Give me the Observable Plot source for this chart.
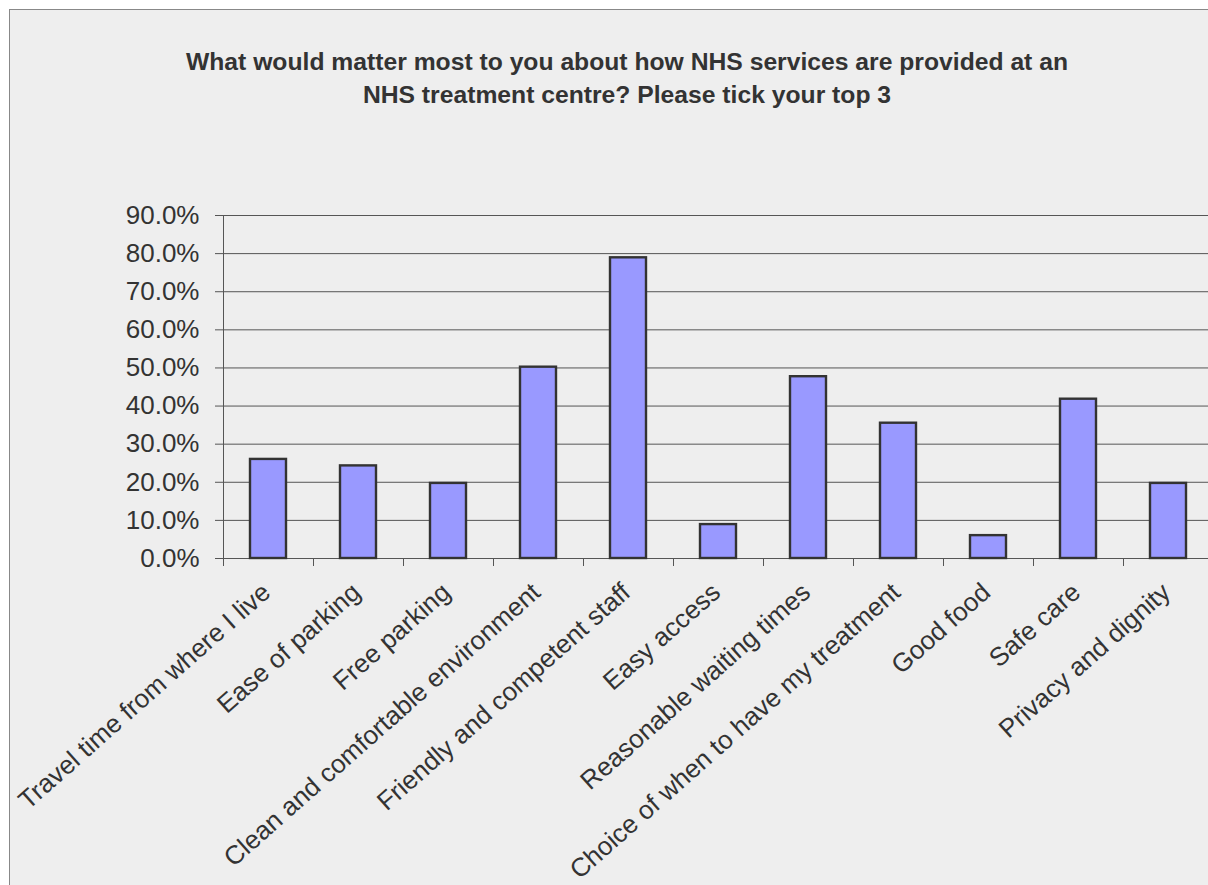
<!DOCTYPE html>
<html>
<head>
<meta charset="utf-8">
<script src="https://cdn.jsdelivr.net/npm/d3@7"></script>
<script src="https://cdn.jsdelivr.net/npm/@observablehq/plot@0.6"></script>
<style>
  html, body { margin: 0; padding: 0; width: 1208px; height: 885px; overflow: hidden; background: #fff; }
  #frame { position: absolute; left: 9px; top: 9px; width: 1300px; height: 1000px; background: #eeeeee; border: 1px solid #888; box-sizing: border-box; }
  #title { position: absolute; left: 0; top: 45px; width: 1254px; text-align: center; font-family: "Liberation Sans", Arial, sans-serif; font-weight: bold; font-size: 24.7px; line-height: 33px; color: #333; }
  #chart { position: absolute; left: 0; top: 0; width: 1215px; }
  #chart svg { max-width: none !important; }
</style>
</head>
<body>
<div id="frame"></div>
<div id="title">What would matter most to you about how NHS services are provided at an<br>NHS treatment centre? Please tick your top 3</div>
<div id="chart"></div>
<script>
const categories = [
  "Travel time from where I live",
  "Ease of parking",
  "Free parking",
  "Clean and comfortable environment",
  "Friendly and competent staff",
  "Easy access",
  "Reasonable waiting times",
  "Choice of when to have my treatment",
  "Good food",
  "Safe care",
  "Privacy and dignity"
];
const shares = [0.260, 0.243, 0.197, 0.502, 0.789, 0.089, 0.477, 0.355, 0.060, 0.418, 0.197];
const yTicks = [0, 0.1, 0.2, 0.3, 0.4, 0.5, 0.6, 0.7, 0.8, 0.9];

const data = categories.map((c, i) => ({category: c, share: shares[i]}));

const W = 1215, H = 885, ML = 223, MR = 2;
const step = (W - ML - MR) / categories.length;

const plot = Plot.plot({
  width: W,
  height: H,
  marginLeft: ML,
  marginRight: MR,
  marginTop: 215,
  marginBottom: 327,
  style: {background: "transparent", fontFamily: "'Liberation Sans', Arial, sans-serif", color: "#333", maxWidth: "none"},
  x: {domain: categories, paddingInner: 0.6, paddingOuter: 0.3, align: 0.5},
  y: {domain: [0, 0.9]},
  marks: [
    Plot.ruleY(yTicks, {y: d => d, stroke: "#555", strokeWidth: 1, insetLeft: -8}),
    Plot.barY(data, {x: "category", y: "share", fill: "#9999ff", stroke: "#333", strokeWidth: 2.4}),
    Plot.ruleX(categories, {x: d => d, dx: -step / 2, y1: 0, y2: 0, insetBottom: -8, stroke: "#555"}),
    Plot.ruleX(categories.slice(0, 1), {x: d => d, dx: -step / 2, y1: 0.9, y2: 0, insetBottom: -8, stroke: "#555"}),
    Plot.axisY(yTicks, {tickSize: 0, tickPadding: 24, tickFormat: d3.format(".1%"), fontSize: 26, fill: "#333", label: null}),
    Plot.axisX({tickSize: 0, tickPadding: 30, dx: -2, tickRotate: -41.5, fontSize: 26, fill: "#333", label: null})
  ]
});
document.getElementById("chart").append(plot);
</script>
</body>
</html>
